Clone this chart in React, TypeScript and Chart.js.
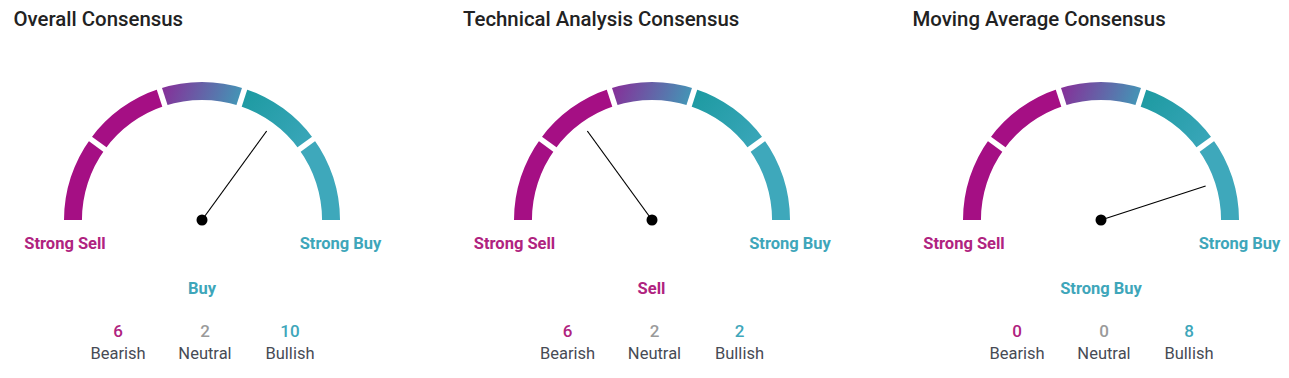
import React, { useEffect, useRef } from "react";
import { Chart, registerables } from "chart.js";

Chart.register(...registerables);

// ---- data ----
const titles = ["Overall Consensus", "Technical Analysis Consensus", "Moving Average Consensus"];
const verdicts = ["Buy", "Sell", "Strong Buy"];
const needleValues = [0.7, 0.3, 0.9]; // 0 = Strong Sell ... 1 = Strong Buy
const bearishCounts = [6, 6, 0];
const neutralCounts = [2, 2, 0];
const bullishCounts = [10, 2, 8];
const zoneLabels = ["Strong Sell", "Sell", "Neutral", "Buy", "Strong Buy"];
const zoneSizes = [1, 1, 1, 1, 1];
const countLabels = ["Bearish", "Neutral", "Bullish"];

// ---- style ----
const MAGENTA = "#a50f84";
const SELL_TEXT = "#b0237f";
const BUY_TEXT = "#3ea6ba";
const NEUTRAL_TEXT = "#9a9a9a";
const FONT = "Roboto, 'Noto Sans', sans-serif";
const R = 138;
const PANEL_STEP = 449.5;
const GAUGE_X0 = 202;
const GAUGE_Y = 220;

function verdictColor(v: string) {
  if (v.includes("Sell")) return SELL_TEXT;
  if (v.includes("Buy")) return BUY_TEXT;
  return NEUTRAL_TEXT;
}

function Gauge({ value, left, top }: { value: number; left: number; top: number }) {
  const ref = useRef<HTMLCanvasElement>(null);
  useEffect(() => {
    const canvas = ref.current!;
    const needlePlugin = {
      id: "needle",
      afterDatasetsDraw(chart: any) {
        const arcs = chart.getDatasetMeta(0).data as any[];
        if (!arcs.length) return;
        const { x, y, innerRadius, outerRadius } = arcs[0];
        const ctx = chart.ctx as CanvasRenderingContext2D;
        ctx.save();
        ctx.strokeStyle = "#ffffff";
        ctx.lineWidth = 5.5;
        for (let i = 0; i < arcs.length - 1; i++) {
          const a = arcs[i].endAngle;
          ctx.beginPath();
          ctx.moveTo(x + Math.cos(a) * (innerRadius - 3), y + Math.sin(a) * (innerRadius - 3));
          ctx.lineTo(x + Math.cos(a) * (outerRadius + 3), y + Math.sin(a) * (outerRadius + 3));
          ctx.stroke();
        }
        const ang = Math.PI + value * Math.PI;
        const L = 110;
        ctx.strokeStyle = "#000000";
        ctx.lineWidth = 1.2;
        ctx.beginPath();
        ctx.moveTo(x, y);
        ctx.lineTo(x + Math.cos(ang) * L, y + Math.sin(ang) * L);
        ctx.stroke();
        ctx.fillStyle = "#000000";
        ctx.beginPath();
        ctx.arc(x, y, 5.5, 0, Math.PI * 2);
        ctx.fill();
        ctx.restore();
      },
    };
    const bg = (c: any) => {
      const chart = c.chart;
      const area = chart.chartArea;
      const i = c.dataIndex;
      if (!area || i === undefined) return MAGENTA;
      const cx = (area.left + area.right) / 2;
      const cy = (area.top + area.bottom) / 2 + R / 2;
      const ctx = chart.ctx as CanvasRenderingContext2D;
      if (i === 0 || i === 1) return MAGENTA;
      if (i === 2) {
        const g = ctx.createLinearGradient(cx - 45, cy - R, cx + 40, cy - R + 28);
        g.addColorStop(0, "#8c2696");
        g.addColorStop(1, "#3f9cb8");
        return g;
      }
      if (i === 3) {
        const g = ctx.createLinearGradient(cx + 45, cy - R + 5, cx + 105, cy - 85);
        g.addColorStop(0, "#1d9aa1");
        g.addColorStop(1, "#37a5b7");
        return g;
      }
      return "#3ea8bb";
    };
    const chart = new Chart(canvas, {
      type: "doughnut",
      data: {
        labels: zoneLabels,
        datasets: [{ data: zoneSizes, backgroundColor: bg as any, borderWidth: 0, hoverOffset: 0 }],
      },
      options: {
        animation: false,
        responsive: false,
        maintainAspectRatio: false,
        events: [],
        rotation: -90,
        circumference: 180,
        radius: R,
        cutout: "87%",
        layout: { padding: { top: 2, bottom: 0, left: 0, right: 0 } },
        plugins: { legend: { display: false }, tooltip: { enabled: false } },
      } as any,
      plugins: [needlePlugin],
    });
    return () => chart.destroy();
  }, [value]);
  return (
    <canvas
      ref={ref}
      width={300}
      height={160}
      style={{ position: "absolute", left, top, width: 300, height: 160 }}
    />
  );
}

function Text({
  text, cx, cy, size, weight, color, align = "center", x,
}: {
  text: string | number; cx?: number; cy: number; size: number; weight: number; color: string; align?: string; x?: number;
}) {
  const lh = size + 4;
  const style: React.CSSProperties = {
    position: "absolute",
    top: cy - lh / 2,
    lineHeight: lh + "px",
    fontSize: size,
    fontWeight: weight,
    color,
    fontFamily: FONT,
    whiteSpace: "nowrap",
  };
  if (align === "left") {
    style.left = x;
  } else {
    style.left = (cx as number) - 100;
    style.width = 200;
    style.textAlign = "center";
  }
  return <div style={style}>{text}</div>;
}

export default function App() {
  return (
    <div style={{ position: "absolute", left: 0, top: 0, width: 1289, height: 378, background: "#fff", overflow: "hidden" }}>
      {titles.map((t, p) => {
        const cx = GAUGE_X0 + p * PANEL_STEP;
        const counts = [bearishCounts[p], neutralCounts[p], bullishCounts[p]];
        const countColors = [SELL_TEXT, NEUTRAL_TEXT, BUY_TEXT];
        const colX = [-84, 3, 88];
        return (
          <React.Fragment key={p}>
            <Text text={t} align="left" x={cx - 188.5} cy={19} size={20.4} weight={500} color="#222222" />
            <Gauge value={needleValues[p]} left={cx - 150} top={GAUGE_Y - 150} />
            <Text text={zoneLabels[0]} cx={cx - 137} cy={244} size={16.5} weight={700} color={SELL_TEXT} />
            <Text text={zoneLabels[4]} cx={cx + 138.5} cy={244} size={16.5} weight={700} color={BUY_TEXT} />
            <Text text={verdicts[p]} cx={cx} cy={289} size={16.5} weight={700} color={verdictColor(verdicts[p])} />
            {counts.map((c, k) => (
              <React.Fragment key={k}>
                <Text text={c} cx={cx + colX[k]} cy={331} size={17} weight={500} color={countColors[k]} />
                <Text text={countLabels[k]} cx={cx + colX[k]} cy={354} size={16.5} weight={400} color="#474b55" />
              </React.Fragment>
            ))}
          </React.Fragment>
        );
      })}
    </div>
  );
}
